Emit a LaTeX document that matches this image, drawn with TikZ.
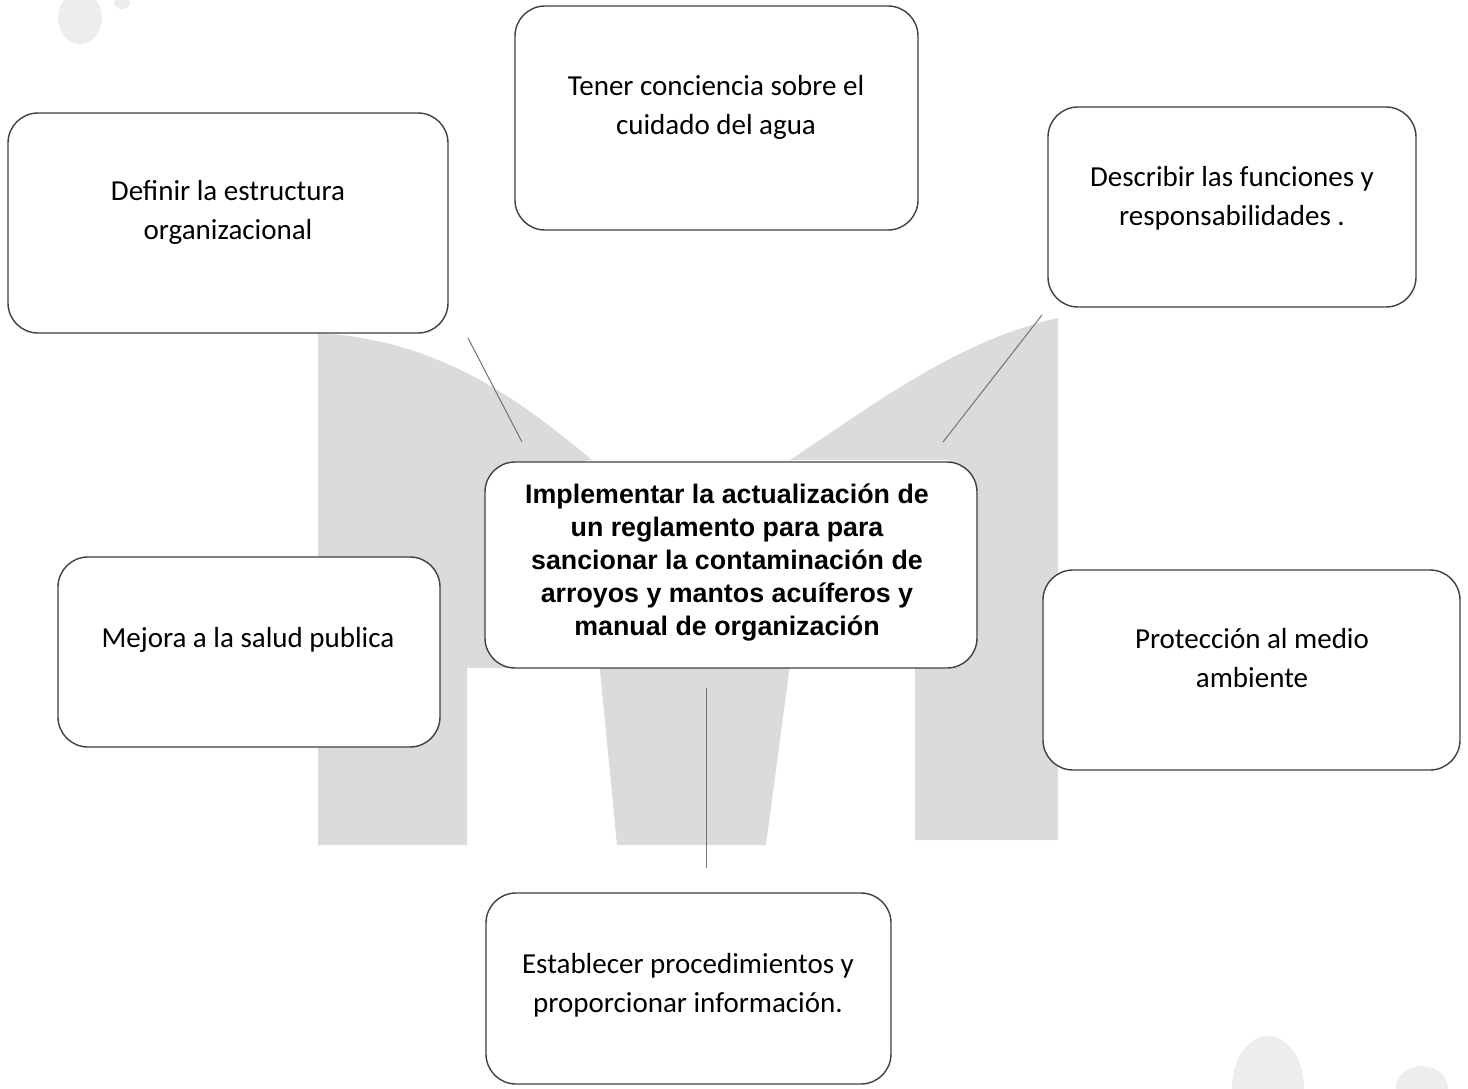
\documentclass[tikz,border=0pt]{standalone}
\usepackage{fontspec}
\setmainfont{Carlito}
\newfontfamily\arialfont{Liberation Sans}
\begin{document}
\begin{tikzpicture}[x=0.5pt,y=-0.5pt,
  box/.style={draw=black!75, line width=0.7pt, rounded corners=15pt, fill=white, inner sep=0pt},
  txt/.style={align=center, inner sep=0pt, font=\fontsize{14.5}{19.5}\selectfont},
  maintxt/.style={align=center, inner sep=0pt, font=\arialfont\bfseries\fontsize{13.4}{16.5}\selectfont},
  shade/.style={fill=black!14, draw=none},
  speck/.style={fill=black!7, draw=none},
  conn/.style={draw=black!55, line width=0.5pt}]
\useasboundingbox (0,0) rectangle (1468,1088);
\fill[white] (0,0) rectangle (1468,1088);
% background shape
\path[shade] (318,333) .. controls (440,340) and (520,400) .. (592,460) -- (520,470) -- (520,668) -- (467,668) -- (467,845) -- (318,845) -- cycle;
\path[shade] (598,650) -- (617,845) -- (766,845) -- (792,650) -- cycle;
\path[shade] (790,460) .. controls (880,400) and (960,340) .. (1058,318) -- (1058,840) -- (915,840) -- (915,650) -- (950,650) -- (950,460) -- cycle;
% scan specks
\path[speck] (80,18) ellipse [x radius=11pt, y radius=13pt];
\path[speck] (122,3) ellipse [x radius=4pt, y radius=3pt];
\path[speck] (1268,1088) ellipse [x radius=18pt, y radius=26pt];
\path[speck] (1422,1088) ellipse [x radius=13pt, y radius=11pt];
% connectors
\coordinate (l1a) at (468,338);
\coordinate (l1b) at (522,442);
\coordinate (l2a) at (1042,315);
\coordinate (l2b) at (943,442);
\coordinate (l3a) at (706,688);
\coordinate (l3b) at (706,868);
\draw[conn] (l1a) -- (l1b);
\draw[conn] (l2a) -- (l2b);
\draw[conn] (l3a) -- (l3b);
% boxes
\node[box, minimum width=201.5pt, minimum height=112pt] (tc) at (716.5,118) {};
\node[box, minimum width=220pt, minimum height=110pt] (tl) at (228,223) {};
\node[box, minimum width=184pt, minimum height=100pt] (tr) at (1232,207) {};
\node[box, minimum width=246pt, minimum height=103pt] (c) at (731,565) {};
\node[box, minimum width=191pt, minimum height=95pt] (l) at (249,652) {};
\node[box, minimum width=208.5pt, minimum height=100pt] (r) at (1251.5,670) {};
\node[box, minimum width=202.5pt, minimum height=95.5pt] (b) at (688.5,988.5) {};
% texts
\node[txt] (tct) at (716,107) {Tener conciencia sobre el\\cuidado del agua};
\node[txt] (tlt) at (228,212) {Definir la estructura\\organizacional};
\node[txt] (trt) at (1232,198) {Describir las funciones y\\responsabilidades .};
\node[maintxt] (ct) at (727,563) {Implementar la actualización de\\un reglamento para para\\sancionar la contaminación de\\arroyos y mantos acuíferos y\\manual de organización};
\node[txt] (lt) at (248,640) {Mejora a la salud publica};
\node[txt] (rt) at (1252,658) {Protección al medio\\ambiente};
\node[txt] (bt) at (688,985) {Establecer procedimientos y\\proporcionar información.};
\end{tikzpicture}
\end{document}
